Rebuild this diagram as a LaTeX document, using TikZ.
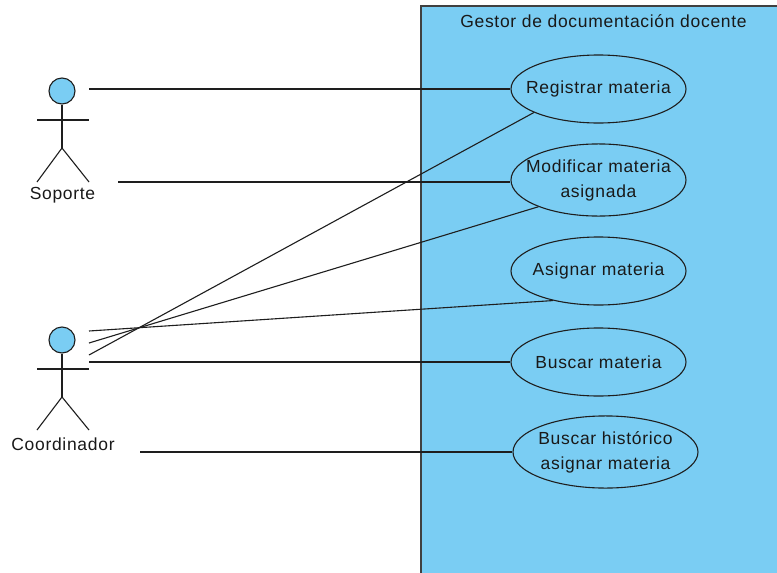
\documentclass[tikz,border=0pt]{standalone}
\usepackage{fontspec}
\setmainfont{Liberation Sans}[LetterSpace=4]
\usetikzlibrary{shapes.geometric}
\definecolor{ucblue}{RGB}{122,205,243}
\definecolor{ucline}{RGB}{30,30,30}
\definecolor{uctext}{RGB}{25,25,25}
\newcommand\zwbox[1]{\makebox[0pt]{#1}}
\newcommand\zwtwo[2]{\makebox[0pt]{\begin{tabular}{@{}c@{}}#1\\#2\end{tabular}}}
\tikzset{
  usecase/.style={draw=ucline, line width=1.1pt, ellipse, fill=ucblue, inner sep=0pt,
    minimum width=175pt, minimum height=68pt, text=uctext,
    font=\fontsize{17.5}{25.5}\selectfont},
  assoc/.style={draw=ucline, line width=1.1pt},
  actorline/.style={draw=ucline, line width=1.1pt},
  actorhead/.style={circle, draw=ucline, line width=1.1pt, fill=ucblue, minimum size=26pt, inner sep=0pt},
  actorlabel/.style={text=uctext, font=\fontsize{17.5}{20}\selectfont, inner sep=0pt},
  sysbox/.style={draw=ucline!85, line width=1.3pt, fill=ucblue},
}
\begin{document}
\begin{tikzpicture}[x=1pt, y=-1pt]
\useasboundingbox (0,0) rectangle (777,573);
\clip (0,0) rectangle (777,573);
\fill[white] (0,0) rectangle (777,573);
% system boundary
\draw[sysbox] (421,6) rectangle (800,600);
\node[text=uctext, font=\fontsize{17.5}{20}\selectfont, anchor=base] (title) at (603.5,27.5) {Gestor de documentación docente};
% use cases
\node[usecase] (reg) at (598.5,89) {\zwbox{Registrar materia}};
\node[usecase] (mod) at (598.5,180) {\zwtwo{Modificar materia}{asignada}};
\node[usecase] (asi) at (598.5,271) {\zwbox{Asignar materia}};
\node[usecase] (bus) at (598.5,362) {\zwbox{Buscar materia}};
\node[usecase, minimum width=185pt, minimum height=69pt] (his) at (605.5,452) {\zwtwo{Buscar histórico}{asignar materia}};
% actor Soporte
\node[actorhead] (soph) at (62,91) {};
\draw[actorline] (soph.south) -- (62,148);
\draw[actorline] (37,120) -- (89,120);
\draw[actorline] (37,182) -- (62,148) -- (89,182);
\node[actorlabel] (sopl) at (62.5,195) {Soporte};
% actor Coordinador
\node[actorhead] (coh) at (62,340) {};
\draw[actorline] (coh.south) -- (62,397);
\draw[actorline] (37,369) -- (89,369);
\draw[actorline] (37,430) -- (62,397) -- (89,430);
\node[actorlabel] (col) at (63,444) {Coordinador};
% connector start points
\coordinate (s1) at (89,89);
\coordinate (s2) at (118,182);
\coordinate (c1) at (89,331);
\coordinate (c2) at (89,343);
\coordinate (c3) at (89,355);
\coordinate (c4) at (89,362);
\coordinate (c5) at (140,452);
% associations
\draw[assoc] (s1) -- (reg.west);
\draw[assoc] (s2) -- (s2 -| mod.west);
\draw[assoc] (c3) -- (reg.200);
\draw[assoc] (c2) -- (mod.204);
\draw[assoc] (c1) -- (asi.213);
\draw[assoc] (c4) -- (bus.west);
\draw[assoc] (c5) -- (his.west);
\end{tikzpicture}
\end{document}
